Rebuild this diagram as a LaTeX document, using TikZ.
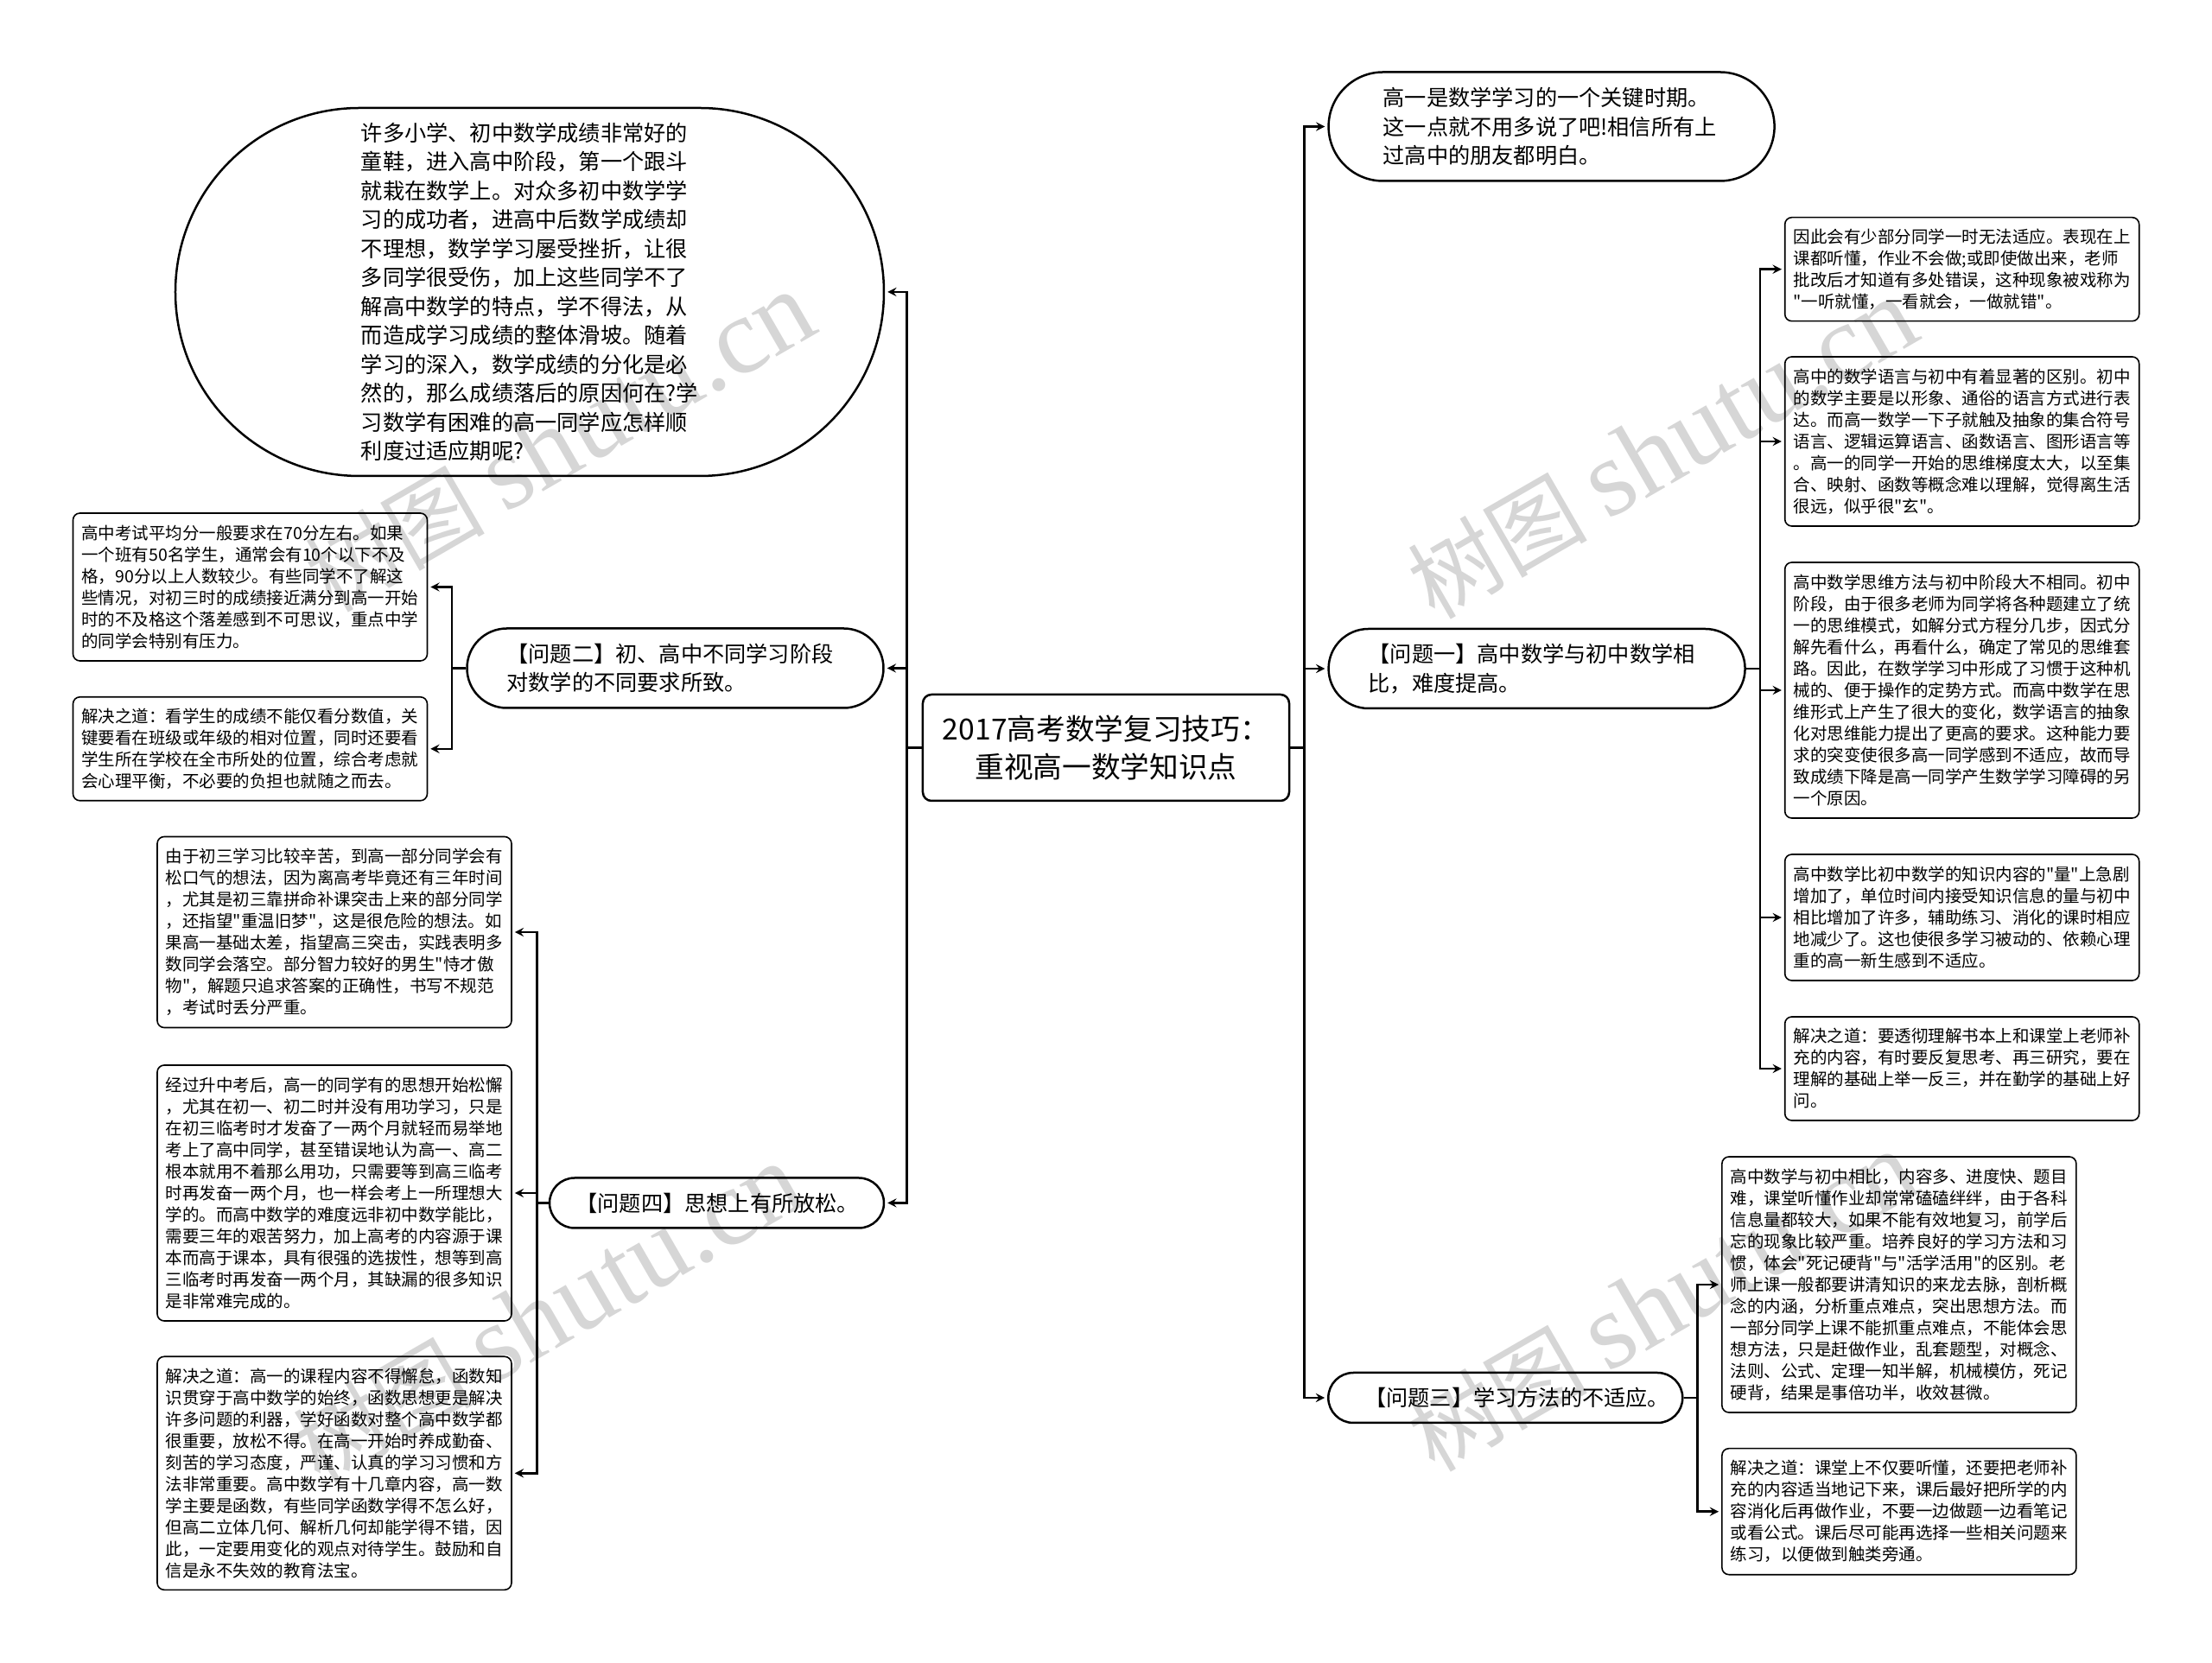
\documentclass[tikz,border=0pt]{standalone}
\usepackage{fontspec}
\newfontfamily\cjkfont{Noto Sans CJK SC}
\newfontfamily\markfont{Liberation Serif}
\usetikzlibrary{arrows, positioning}
\definecolor{markgray}{HTML}{D6D6D6}
\tikzstyle{rootbox} = [rectangle, minimum width=212pt, minimum height=61.5pt, inner sep=0pt, align=center, draw=black, line width=1.25pt, rounded corners=5pt, font=\cjkfont\fontsize{16.85}{22}\selectfont]
\tikzstyle{pill} = [rectangle, inner sep=0pt, text width=195pt, align=left, draw=black, line width=1.25pt, font=\cjkfont\fontsize{12.6}{16.75}\selectfont]
\tikzstyle{note} = [rectangle, minimum width=205pt, inner sep=0pt, text width=195pt, align=left, draw=black, thick, rounded corners=4pt, font=\cjkfont\fontsize{9.75}{12.5}\selectfont]
\tikzstyle{watermark} = [inner sep=0pt, rotate=30, text=markgray, font=\cjkfont\fontsize{52}{52}\selectfont]
\tikzstyle{arrow} = [line width=1.25pt,->,>=stealth,shorten >=1.5pt]

\begin{document}
\begin{tikzpicture}[node distance=100pt]
\useasboundingbox (-640pt,432.75pt) rectangle (640pt,-529.75pt);

% Watermarks
\node (markTopLeft) [watermark] at (-316pt,176.5pt) {树图 \markfont\fontsize{63}{63}\selectfont shutu.cn};
\node (markTopRight) [watermark] at (322pt,172.5pt) {树图 \markfont\fontsize{63}{63}\selectfont shutu.cn};
\node (markBottomLeft) [watermark] at (-323pt,-328pt) {树图 \markfont\fontsize{63}{63}\selectfont shutu.cn};
\node (markBottomRight) [watermark] at (322pt,-321pt) {树图 \markfont\fontsize{63}{63}\selectfont shutu.cn};

% Root Node
\node (root) [rootbox] at (0,0) {2017高考数学复习技巧：\\重视高一数学知识点};

% Right Branch
\node (intro) [pill, right of=root, xshift=157.8pt, yshift=359.5pt, minimum width=258pt, minimum height=63pt, rounded corners=31.5pt] {高一是数学学习的一个关键时期。\\这一点就不用多说了吧!相信所有上\\过高中的朋友都明白。};
\node (issueOne) [pill, right of=root, xshift=149.3pt, yshift=45.75pt, minimum width=241pt, minimum height=46pt, rounded corners=23pt] {【问题一】高中数学与初中数学相\\比，难度提高。};
\node (issueThree) [pill, right of=root, xshift=131.15pt, yshift=-376.25pt, text width=163pt, minimum width=205pt, minimum height=29pt, rounded corners=14.5pt] {【问题三】学习方法的不适应。};

% Left Branch
\node (opening) [pill, left of=root, xshift=-233.5pt, yshift=263.75pt, minimum width=410pt, minimum height=213pt, rounded corners=106.5pt] {许多小学、初中数学成绩非常好的\\童鞋，进入高中阶段，第一个跟斗\\就栽在数学上。对众多初中数学学\\习的成功者，进高中后数学成绩却\\不理想，数学学习屡受挫折，让很\\多同学很受伤，加上这些同学不了\\解高中数学的特点，学不得法，从\\而造成学习成绩的整体滑坡。随着\\学习的深入，数学成绩的分化是必\\然的，那么成绩落后的原因何在?学\\习数学有困难的高一同学应怎样顺\\利度过适应期呢?};
\node (issueTwo) [pill, left of=root, xshift=-149.25pt, yshift=46pt, minimum width=241pt, minimum height=46pt, rounded corners=23pt] {【问题二】初、高中不同学习阶段\\对数学的不同要求所致。};
\node (issueFour) [pill, left of=root, xshift=-125.25pt, yshift=-263.5pt, text width=163pt, minimum width=193.5pt, minimum height=29pt, rounded corners=14.5pt] {【问题四】思想上有所放松。};

% Issue One Notes
\node (oneAdapt) [note, right of=issueOne, xshift=146.05pt, yshift=231.15pt, minimum height=60pt] {因此会有少部分同学一时无法适应。表现在上\\课都听懂，作业不会做;或即使做出来，老师\\批改后才知道有多处错误，这种现象被戏称为\\"一听就懂，一看就会，一做就错"。};
\node (oneLanguage) [note, right of=issueOne, xshift=146.05pt, yshift=131.5pt, minimum height=98pt] {高中的数学语言与初中有着显著的区别。初中\\的数学主要是以形象、通俗的语言方式进行表\\达。而高一数学一下子就触及抽象的集合符号\\语言、逻辑运算语言、函数语言、图形语言等\\。高一的同学一开始的思维梯度太大，以至集\\合、映射、函数等概念难以理解，觉得离生活\\很远，似乎很"玄"。};
\node (oneThinking) [note, right of=issueOne, xshift=146.05pt, yshift=-12.5pt, minimum height=148pt] {高中数学思维方法与初中阶段大不相同。初中\\阶段，由于很多老师为同学将各种题建立了统\\一的思维模式，如解分式方程分几步，因式分\\解先看什么，再看什么，确定了常见的思维套\\路。因此，在数学学习中形成了习惯于这种机\\械的、便于操作的定势方式。而高中数学在思\\维形式上产生了很大的变化，数学语言的抽象\\化对思维能力提出了更高的要求。这种能力要\\求的突变使很多高一同学感到不适应，故而导\\致成绩下降是高一同学产生数学学习障碍的另\\一个原因。};
\node (oneAmount) [note, right of=issueOne, xshift=146.05pt, yshift=-144pt, minimum height=73pt] {高中数学比初中数学的知识内容的"量"上急剧\\增加了，单位时间内接受知识信息的量与初中\\相比增加了许多，辅助练习、消化的课时相应\\地减少了。这也使很多学习被动的、依赖心理\\重的高一新生感到不适应。};
\node (oneSolution) [note, right of=issueOne, xshift=146.05pt, yshift=-231.5pt, minimum height=60pt] {解决之道：要透彻理解书本上和课堂上老师补\\充的内容，有时要反复思考、再三研究，要在\\理解的基础上举一反三，并在勤学的基础上好\\问。};

% Issue Three Notes
\node (threeMethod) [note, right of=issueThree, xshift=127.8pt, yshift=65.5pt, minimum height=148pt] {高中数学与初中相比，内容多、进度快、题目\\难，课堂听懂作业却常常磕磕绊绊，由于各科\\信息量都较大，如果不能有效地复习，前学后\\忘的现象比较严重。培养良好的学习方法和习\\惯，体会"死记硬背"与"活学活用"的区别。老\\师上课一般都要讲清知识的来龙去脉，剖析概\\念的内涵，分析重点难点，突出思想方法。而\\一部分同学上课不能抓重点难点，不能体会思\\想方法，只是赶做作业，乱套题型，对概念、\\法则、公式、定理一知半解，机械模仿，死记\\硬背，结果是事倍功半，收效甚微。};
\node (threeSolution) [note, right of=issueThree, xshift=127.8pt, yshift=-65.85pt, minimum height=73pt] {解决之道：课堂上不仅要听懂，还要把老师补\\充的内容适当地记下来，课后最好把所学的内\\容消化后再做作业，不要一边做题一边看笔记\\或看公式。课后尽可能再选择一些相关问题来\\练习，以便做到触类旁通。};

% Issue Two Notes
\node (twoScore) [note, left of=issueTwo, xshift=-146pt, yshift=47pt, minimum height=85.5pt] {高中考试平均分一般要求在70分左右。如果\\一个班有50名学生，通常会有10个以下不及\\格，90分以上人数较少。有些同学不了解这\\些情况，对初三时的成绩接近满分到高一开始\\时的不及格这个落差感到不可思议，重点中学\\的同学会特别有压力。};
\node (twoSolution) [note, left of=issueTwo, xshift=-146pt, yshift=-46.65pt, minimum height=60pt] {解决之道：看学生的成绩不能仅看分数值，关\\键要看在班级或年级的相对位置，同时还要看\\学生所在学校在全市所处的位置，综合考虑就\\会心理平衡，不必要的负担也就随之而去。};

% Issue Four Notes
\node (fourRelax) [note, left of=issueFour, xshift=-121.25pt, yshift=156.75pt, minimum height=110.5pt] {由于初三学习比较辛苦，到高一部分同学会有\\松口气的想法，因为离高考毕竟还有三年时间\\，尤其是初三靠拼命补课突击上来的部分同学\\，还指望"重温旧梦"，这是很危险的想法。如\\果高一基础太差，指望高三突击，实践表明多\\数同学会落空。部分智力较好的男生"恃才傲\\物"，解题只追求答案的正确性，书写不规范\\，考试时丢分严重。};
\node (fourExam) [note, left of=issueFour, xshift=-121.25pt, yshift=5.75pt, minimum height=148pt] {经过升中考后，高一的同学有的思想开始松懈\\，尤其在初一、初二时并没有用功学习，只是\\在初三临考时才发奋了一两个月就轻而易举地\\考上了高中同学，甚至错误地认为高一、高二\\根本就用不着那么用功，只需要等到高三临考\\时再发奋一两个月，也一样会考上一所理想大\\学的。而高中数学的难度远非初中数学能比，\\需要三年的艰苦努力，加上高考的内容源于课\\本而高于课本，具有很强的选拔性，想等到高\\三临考时再发奋一两个月，其缺漏的很多知识\\是非常难完成的。};
\node (fourSolution) [note, left of=issueFour, xshift=-121.25pt, yshift=-156.4pt, minimum height=135pt] {解决之道：高一的课程内容不得懈怠，函数知\\识贯穿于高中数学的始终，函数思想更是解决\\许多问题的利器，学好函数对整个高中数学都\\很重要，放松不得。在高一开始时养成勤奋、\\刻苦的学习态度，严谨、认真的学习习惯和方\\法非常重要。高中数学有十几章内容，高一数\\学主要是函数，有些同学函数学得不怎么好，\\但高二立体几何、解析几何却能学得不错，因\\此，一定要用变化的观点对待学生。鼓励和自\\信是永不失效的教育法宝。};

% Arrows
\draw [arrow] (root.east) -- ++(8pt,0) |- (intro.west);
\draw [arrow] (root.east) -- ++(8pt,0) |- (issueOne.west);
\draw [arrow] (root.east) -- ++(8pt,0) |- (issueThree.west);
\draw [arrow] (root.west) -- ++(-8.5pt,0) |- (opening.east);
\draw [arrow] (root.west) -- ++(-8.5pt,0) |- (issueTwo.east);
\draw [arrow] (root.west) -- ++(-8.5pt,0) |- (issueFour.east);

% Notes Connections
\draw [arrow] (issueOne.east) -- ++(8pt,0) |- (oneAdapt.west);
\draw [arrow] (issueOne.east) -- ++(8pt,0) |- (oneLanguage.west);
\draw [arrow] (issueOne.east) -- ++(8pt,0) |- (oneThinking.west);
\draw [arrow] (issueOne.east) -- ++(8pt,0) |- (oneAmount.west);
\draw [arrow] (issueOne.east) -- ++(8pt,0) |- (oneSolution.west);
\draw [arrow] (issueThree.east) -- ++(8pt,0) |- (threeMethod.west);
\draw [arrow] (issueThree.east) -- ++(8pt,0) |- (threeSolution.west);
\draw [arrow] (issueTwo.west) -- ++(-8pt,0) |- (twoScore.east);
\draw [arrow] (issueTwo.west) -- ++(-8pt,0) |- (twoSolution.east);
\draw [arrow] (issueFour.west) -- ++(-6.5pt,0) |- (fourRelax.east);
\draw [arrow] (issueFour.west) -- ++(-6.5pt,0) |- (fourExam.east);
\draw [arrow] (issueFour.west) -- ++(-6.5pt,0) |- (fourSolution.east);

\end{tikzpicture}
\end{document}
